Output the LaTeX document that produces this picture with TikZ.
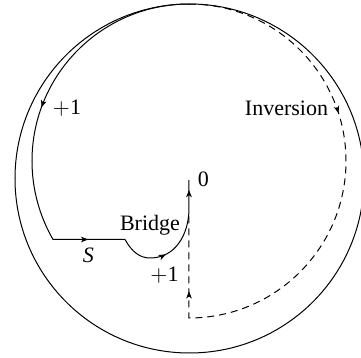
\documentclass[tikz,border=0pt]{standalone}
\usepackage{fontspec}
\setmainfont{Liberation Serif}
\usetikzlibrary{arrows.meta,decorations.markings}
\tikzset{
  rim/.style={line width=0.5pt},
  track/.style={line width=0.5pt},
  dashtrack/.style={line width=0.5pt, dash pattern=on 3.5pt off 2.5pt},
  arrowat/.style={postaction={decorate, decoration={markings, mark=at position #1 with {\arrow{Stealth[length=3.6pt,width=2.8pt,inset=1pt]}}}}},
  lbl/.style={inner sep=0pt, anchor=base, font=\fontsize{11}{13}\selectfont}
}
\begin{document}
\begin{tikzpicture}[x=0.5pt, y=-0.5pt]
\useasboundingbox (0,0) rectangle (361,358);
\coordinate (hub) at (189.5,178.5);
\coordinate (apex) at (189,4);
\coordinate (ledge) at (125,239.5);
\coordinate (sag) at (150,258);
\coordinate (rise) at (189,208);
\coordinate (zero) at (189,180);
\coordinate (meet) at (189,212);

\draw[rim] (hub) circle[radius=174.5];
% solid route
\draw[track, arrowat=96pt, arrowat=182pt, arrowat=225pt, arrowat=-5pt]
  (apex) arc[start angle=-90, end angle=-210, radius=157] coordinate (kink)
  -- (ledge) .. controls (132,252) and (140,258) .. (sag)
  .. controls (175,258) and (189,235) .. (rise) -- (zero);
% dashed route
\draw[dashtrack, arrowat=99pt, arrowat=260pt]
  (apex) arc[start angle=-90, end angle=90, radius=157] coordinate (foot) -- (meet);

\node[lbl] (plusTop) at (67,115) {$+$1};
\node[lbl] (inversion) at (286.5,116) {Inversion};
\node[lbl] (zeroLbl) at (203.5,187) {0};
\node[lbl] (bridge) at (150,231) {Bridge};
\node[lbl] (sLbl) at (88.5,263) {\textit{S}};
\node[lbl] (plusLow) at (164.5,281.5) {$+$1};
\end{tikzpicture}
\end{document}
